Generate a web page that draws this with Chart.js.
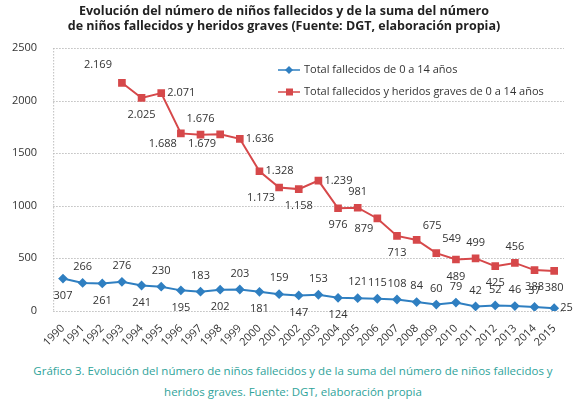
<!DOCTYPE html>
<html><head><meta charset="utf-8">
<script src="https://cdn.jsdelivr.net/npm/chart.js@4"></script>
<style>
body{margin:0;background:#fff;width:586px;height:408px;overflow:hidden;font-family:"Open Sans",sans-serif}
#wrap{position:absolute;left:0;top:0;width:586px;height:352px}
#cap{position:absolute;left:0;top:360px;width:586px;text-align:center;color:#2fa39a;font-size:11.5px;line-height:21px;font-family:"Open Sans",sans-serif}
</style></head><body>
<div id="wrap"><canvas id="c"></canvas></div>
<div id="cap">Gráfico 3. Evolución del número de niños fallecidos y de la suma del número de niños fallecidos y<br>heridos graves. Fuente: DGT, elaboración propia</div>
<script>
const years=['1990','1991','1992','1993','1994','1995','1996','1997','1998','1999','2000','2001','2002','2003','2004','2005','2006','2007','2008','2009','2010','2011','2012','2013','2014','2015'];
const fallecidos=[307,266,261,276,241,230,195,183,202,203,181,159,147,153,124,121,115,108,84,60,79,42,52,46,37,25];
const heridos=[null,null,null,2169,2025,2071,1688,1676,1679,1636,1328,1173,1158,1239,976,981,879,713,675,549,489,499,425,456,388,380];
const blueLabelPos=['b','t','b','t','b','t','b','t','b','t','b','t','b','t','b','t','t','t','t','t','t','t','t','t','t','r'];
const redLabelPos=[null,null,null,'tl','b','r','bl','t','bl','r','r','bl','b','r','b','t','bl','b','tr','tr','b','t','b','t','b','b'];
const fmt=v=>v>=1000?String(v).replace(/(\d)(\d{3})$/,'$1.$2'):String(v);
const labelPlugin={id:'lbl',afterDatasetsDraw(ch){
  const ctx=ch.ctx;ctx.save();ctx.font='11px "Open Sans"';ctx.fillStyle='#333';
  [[0,blueLabelPos],[1,redLabelPos]].forEach(([di,pos])=>{
    const meta=ch.getDatasetMeta(di);const data=ch.data.datasets[di].data;
    meta.data.forEach((p,i)=>{const v=data[i];if(v==null)return;const a=pos[i];let x=p.x,y=p.y;
      ctx.textAlign='center';ctx.textBaseline='middle';
      if(a==='t')y-=16;else if(a==='b')y+=17;else if(a==='r'){x+=6;ctx.textAlign='left';}
      else if(a==='tl'){x-=10;y-=18;ctx.textAlign='right';}
      else if(a==='bl'){x-=4;y+=10;ctx.textAlign='right';}
      else if(a==='tr'){x+=6;y-=14;ctx.textAlign='left';}
      ctx.fillText(fmt(v),x,y);});
  });
  const lx=278;const items=[[ch.data.datasets[0],70],[ch.data.datasets[1],92]];
  items.forEach(([ds,y])=>{ctx.strokeStyle=ds.borderColor;ctx.fillStyle=ds.borderColor;ctx.lineWidth=1.5;
    ctx.beginPath();ctx.moveTo(lx,y);ctx.lineTo(lx+22,y);ctx.stroke();
    if(ds.pointStyle==='rect'){ctx.fillRect(lx+8,y-3.5,7,7);}else{ctx.beginPath();ctx.moveTo(lx+11,y-4);ctx.lineTo(lx+15,y);ctx.lineTo(lx+11,y+4);ctx.lineTo(lx+7,y);ctx.fill();}
    ctx.fillStyle='#333';ctx.textAlign='left';ctx.textBaseline='middle';ctx.font='11px "Open Sans"';ctx.fillText(ds.label,lx+26,y);});
  ctx.restore();}};
const gridPlugin={id:'grid',beforeDatasetsDraw(ch){
  const ctx=ch.ctx,ys=ch.scales.y,a=ch.chartArea;ctx.save();ctx.strokeStyle='#bdbdbd';ctx.lineWidth=1;ctx.setLineDash([1.5,1.5]);
  ys.ticks.forEach(t=>{const y=Math.round(ys.getPixelForValue(t.value))+0.5;ctx.beginPath();ctx.moveTo(a.left,y);ctx.lineTo(a.right,y);ctx.stroke();});
  ctx.beginPath();ctx.moveTo(a.left+0.5,a.top);ctx.lineTo(a.left+0.5,a.bottom);ctx.stroke();ctx.restore();}};
new Chart(document.getElementById('c'),{type:'line',
 data:{labels:years,datasets:[
  {label:'Total fallecidos de 0 a 14 años',data:fallecidos,borderColor:'#2f7fc1',backgroundColor:'#2f7fc1',borderWidth:2,pointStyle:'rectRot',pointRadius:3.5,tension:0},
  {label:'Total fallecidos y heridos graves de 0 a 14 años',data:heridos,borderColor:'#d6484a',backgroundColor:'#d6484a',borderWidth:2,pointStyle:'rect',pointRadius:4,tension:0,spanGaps:false}]},
 options:{responsive:true,maintainAspectRatio:false,animation:false,
  layout:{padding:{left:4,right:22,top:0,bottom:0}},
  plugins:{legend:{display:false},tooltip:{enabled:false},
   title:{display:true,text:['Evolución del número de niños fallecidos y de la suma del número','de niños fallecidos y heridos graves (Fuente: DGT, elaboración propia)'],color:'#222',font:{family:'"Open Sans"',size:12.5,weight:'bold'},padding:{top:4,bottom:14},lineHeight:1.35}},
  scales:{x:{offset:true,grid:{display:false},border:{display:false},ticks:{color:'#333',font:{family:'"Open Sans"',size:11},maxRotation:45,minRotation:45,autoSkip:false}},
   y:{min:0,max:2500,ticks:{stepSize:500,color:'#333',font:{family:'"Open Sans"',size:11},callback:v=>String(v),padding:8},grid:{display:false},border:{display:false}}}},
 plugins:[gridPlugin,labelPlugin]});
</script></body></html>
